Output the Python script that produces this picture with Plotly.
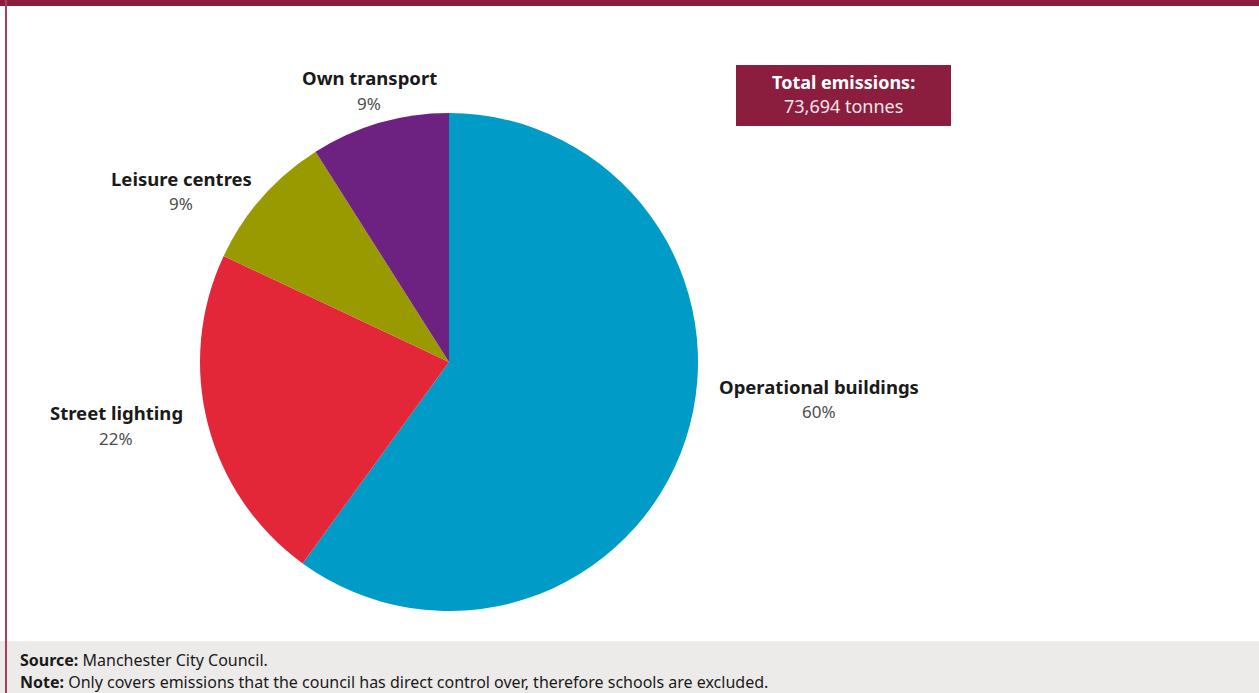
import plotly.graph_objects as go

W, H = 1259, 693

# Emission shares by source (%)
categories = ["Operational buildings", "Street lighting", "Leisure centres", "Own transport"]
shares = [60, 22, 9, 9]
colors = ["#009CC7", "#E32739", "#999900", "#6D2181"]
label_pos = [(819, 386), (116, 413), (181, 178), (369, 78)]

MAROON = "#8B1E3F"

def px(x):
    return x / W

def py(y):
    return 1 - y / H

cx, cy, r = 449, 362, 249

fig = go.Figure(go.Pie(
    labels=categories,
    values=shares,
    marker=dict(colors=colors, line=dict(width=0)),
    sort=False,
    direction="clockwise",
    rotation=0,
    textinfo="none",
    hoverinfo="label+percent",
    showlegend=False,
    domain=dict(x=[px(cx - r), px(cx + r)], y=[py(cy + r), py(cy - r)]),
))

annotations = []
for name, val, (lx, ly) in zip(categories, shares, label_pos):
    annotations.append(dict(
        x=px(lx), y=py(ly), xref="paper", yref="paper", showarrow=False,
        text=f"<b>{name}</b>", font=dict(family="Noto Sans", size=18.5, color="#1a1a1a"),
        xanchor="center", yanchor="middle"))
    annotations.append(dict(
        x=px(lx), y=py(ly + 25), xref="paper", yref="paper", showarrow=False,
        text=f"{val}%", font=dict(family="Noto Sans", size=17, color="#4d4d4d"),
        xanchor="center", yanchor="middle"))

# Total emissions box text
annotations.append(dict(
    x=px(843), y=py(82), xref="paper", yref="paper", showarrow=False,
    text="<b>Total emissions:</b>", font=dict(family="Noto Sans", size=18, color="white"),
    xanchor="center", yanchor="middle"))
annotations.append(dict(
    x=px(843), y=py(106), xref="paper", yref="paper", showarrow=False,
    text="73,694 tonnes", font=dict(family="Noto Sans", size=18, color="#F2E6EA"),
    xanchor="center", yanchor="middle"))

# Footer notes
annotations.append(dict(
    x=px(18), y=py(660), xref="paper", yref="paper", showarrow=False,
    text="<b>Source:</b> Manchester City Council.",
    font=dict(family="Noto Sans", size=16, color="#1a1a1a"),
    xanchor="left", yanchor="middle"))
annotations.append(dict(
    x=px(18), y=py(682), xref="paper", yref="paper", showarrow=False,
    text="<b>Note:</b> Only covers emissions that the council has direct control over, therefore schools are excluded.",
    font=dict(family="Noto Sans", size=16, color="#1a1a1a"),
    xanchor="left", yanchor="middle"))

shapes = [
    # footer band
    dict(type="rect", xref="paper", yref="paper", x0=0, x1=1, y0=0, y1=py(641),
         fillcolor="#EDEBE9", line=dict(width=0), layer="below"),
    # top bar
    dict(type="rect", xref="paper", yref="paper", x0=0, x1=1, y0=py(6), y1=1,
         fillcolor=MAROON, line=dict(width=0)),
    # left rule
    dict(type="rect", xref="paper", yref="paper", x0=px(5), x1=px(7), y0=0, y1=1,
         fillcolor="#A3405E", line=dict(width=0)),
    # total box
    dict(type="rect", xref="paper", yref="paper", x0=px(736), x1=px(951), y0=py(126), y1=py(65),
         fillcolor=MAROON, line=dict(width=0), layer="below"),
]

fig.update_layout(
    width=W, height=H,
    margin=dict(l=0, r=0, t=0, b=0),
    paper_bgcolor="white",
    plot_bgcolor="white",
    annotations=annotations,
    shapes=shapes,
)

fig.write_html("out.html", config={"displayModeBar": False})
